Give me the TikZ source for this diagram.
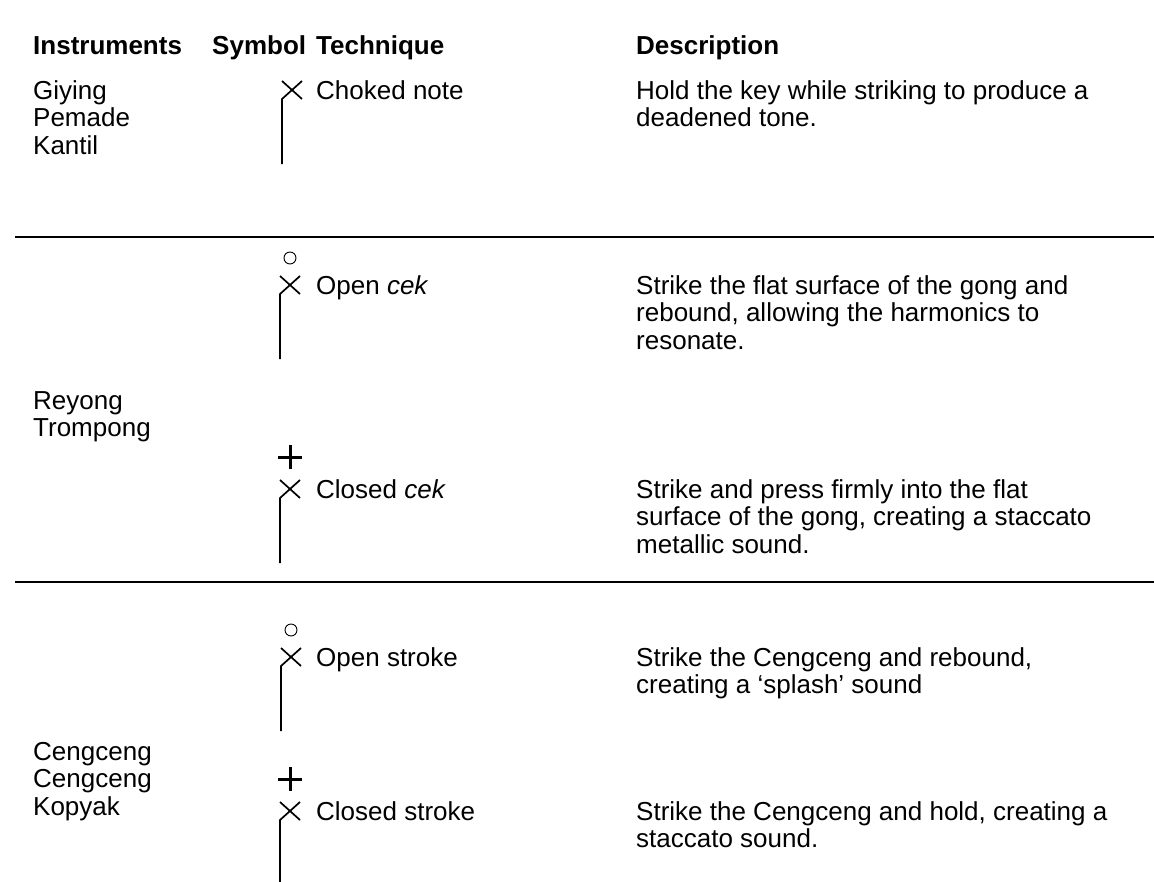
\documentclass[tikz,border=0pt]{standalone}
\usepackage{fontspec}
\setmainfont{Liberation Sans}
\newcommand{\fst}{\rule{0pt}{19pt}}
\begin{document}
\begin{tikzpicture}[x=1pt,y=-1pt,
  txt/.style={anchor=north west,inner sep=0pt,align=left,font=\fontsize{26}{27.6}\selectfont},
  hdr/.style={anchor=north west,inner sep=0pt,align=left,font=\fontsize{26}{27.6}\selectfont\bfseries},
  hrule/.style={line width=2pt},
  sym/.style={line width=1.7pt},
  stroke/.pic={
    \draw[sym] (-10,74) -- (-10,9) -- (10,-9);
    \draw[sym] (-10,-9) -- (10,9);
  },
  opensym/.pic={\draw[line width=0.9pt] (0,-27) circle[radius=6pt];},
  closedsym/.pic={\draw[line width=3pt] (-12,-32) -- (12,-32) (0,-44) -- (0,-20);}
]
\useasboundingbox (0,0) rectangle (1154,881);
% header
\node[hdr] (hi) at (33,35) {\fst Instruments};
\node[hdr] (hs) at (212,35) {\fst Symbol};
\node[hdr] (ht) at (316,35) {\fst Technique};
\node[hdr] (hd) at (636,35) {\fst Description};
% row 1
\node[txt] (i1) at (33,80) {\fst Giying\\Pemade\\Kantil};
\pic (s1) at (292,90) {stroke};
\node[txt] (t1) at (316,80) {\fst Choked note};
\node[txt] (d1) at (636,80) {\fst Hold the key while striking to produce a\\deadened tone.};
\coordinate (l1a) at (15,237);
\coordinate (l1b) at (1154,237);
\draw[hrule] (l1a) -- (l1b);
% row 2
\pic (s2o) at (290,285) {opensym};
\pic (s2) at (290,285) {stroke};
\node[txt] (t2) at (316,275) {\fst Open \textit{cek}};
\node[txt] (d2) at (636,275) {\fst Strike the flat surface of the gong and\\rebound, allowing the harmonics to\\resonate.};
\node[txt] (i2) at (33,390) {\fst Reyong\\Trompong};
% row 3
\pic (s3c) at (290,489) {closedsym};
\pic (s3) at (290,489) {stroke};
\node[txt] (t3) at (316,479) {\fst Closed \textit{cek}};
\node[txt] (d3) at (636,479) {\fst Strike and press firmly into the flat\\surface of the gong, creating a staccato\\metallic sound.};
\coordinate (l2a) at (15,582);
\coordinate (l2b) at (1154,582);
\draw[hrule] (l2a) -- (l2b);
% row 4
\pic (s4o) at (291,657) {opensym};
\pic (s4) at (291,657) {stroke};
\node[txt] (t4) at (316,647) {\fst Open stroke};
\node[txt] (d4) at (636,647) {\fst Strike the Cengceng and rebound,\\creating a `splash' sound};
\node[txt] (i3) at (33,741) {\fst Cengceng\\Cengceng\\Kopyak};
% row 5
\pic (s5c) at (290,811) {closedsym};
\pic (s5) at (290,811) {stroke};
\node[txt] (t5) at (316,801) {\fst Closed stroke};
\node[txt] (d5) at (636,801) {\fst Strike the Cengceng and hold, creating a\\staccato sound.};
\end{tikzpicture}
\end{document}
